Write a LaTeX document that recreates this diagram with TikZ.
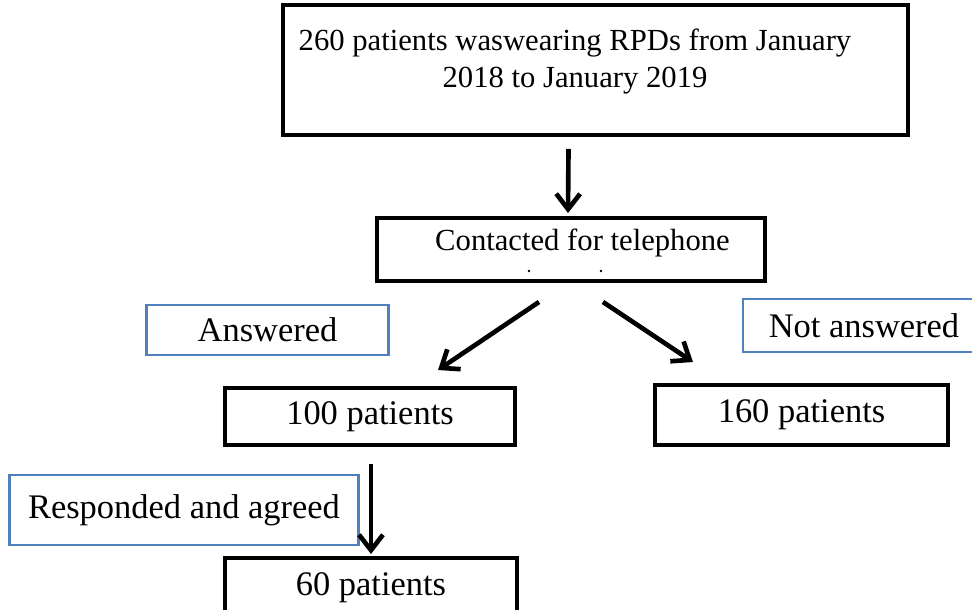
\documentclass[tikz,border=0pt]{standalone}
\usepackage{fontspec}
\setmainfont{Liberation Serif}
\usetikzlibrary{arrows.meta, calc}

\definecolor{frameblue}{RGB}{79,129,189}

\begin{document}
\begin{tikzpicture}[
    x=0.025cm, y=-0.025cm,
    box/.style={draw=black, line width=2.8pt, inner sep=0pt},
    note/.style={draw=frameblue, line width=2.1pt, inner sep=0pt,
                 font=\fontsize{24.5}{29}\selectfont},
    big/.style={font=\fontsize{24.5}{29}\selectfont},
    small/.style={font=\fontsize{21.8}{26.3}\selectfont, align=center},
    arr/.style={-{Straight Barb[length=11pt,width=17pt]}, line width=3.3pt}
  ]
  \useasboundingbox (0,0) rectangle (972,610);

  % Start of the study
  \node[box, minimum width=15.625cm, minimum height=3.25cm] (top) at (595.5,70) {};
  \node[small] (toptxt) at (575,62)
    {260 patients waswearing RPDs from January\\2018 to January 2019};

  % Telephone contact
  \node[box, minimum width=9.7cm, minimum height=1.575cm] (contact) at (571,249.5) {};
  \node[small] (contacttxt) at (582.5,243) {Contacted for telephone};
  \fill (529,271) circle[radius=0.035cm];
  \fill (601,271) circle[radius=0.035cm];

  % Labels of the branches
  \node[note, minimum width=6.025cm, minimum height=1.25cm] (ans) at (267.5,330) {Answered};
  \node[note, minimum width=6.05cm, minimum height=1.325cm] (notans) at (864,325.5) {Not answered};
  \node[note, minimum width=8.7cm, minimum height=1.75cm] (resp) at (184,510) {Responded and agreed};

  % Patient counts
  \node[box, big, minimum width=7.25cm, minimum height=1.425cm] (p100) at (370,416.5) {100 patients};
  \node[box, big, minimum width=7.325cm, minimum height=1.5cm] (p160) at (801.5,415) {160 patients};
  \node[box, big, minimum width=7.3cm, minimum height=1.5cm] (p60) at (371,588) {60 patients};

  % Arrows
  \draw[arr] ($(top.south)+(-27,12)$) -- ($(contact.north)+(-3,-3)$);
  \draw[arr] ($(contact.south)+(-32,19)$) -- ($(p100.north)+(68,-16)$);
  \draw[arr] ($(contact.south)+(32,19)$) -- ($(p160.north)+(-108.5,-21)$);
  \draw[arr] ($(p100.south)+(1,17)$) -- ($(p60.north)+(0,-2)$);
\end{tikzpicture}
\end{document}
